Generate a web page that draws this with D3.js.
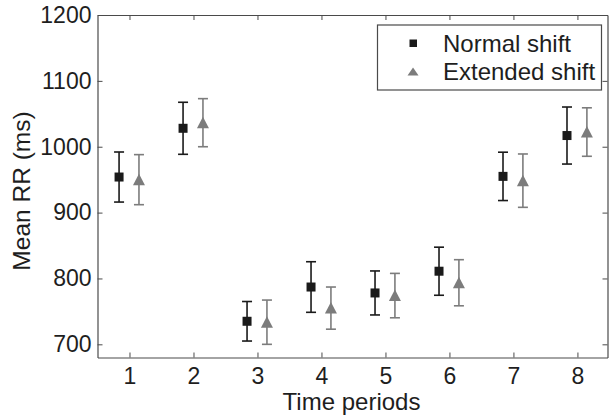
<!DOCTYPE html>
<html><head><meta charset="utf-8">
<script src="https://cdn.jsdelivr.net/npm/d3@7"></script>
<style>body{margin:0;background:#fff}svg{display:block}text{font-family:"Liberation Sans",Arial,sans-serif;fill:#1e1e1e}</style>
</head><body>
<script>
const periods = [1,2,3,4,5,6,7,8];
const normalMean = [954, 1028, 735, 787, 778, 811, 955, 1017];
const normalErr  = [38, 39.5, 30, 38.4, 33.4, 36.5, 36.7, 43.3];
const extMean    = [950, 1036.5, 733.6, 755, 774, 793.5, 948.5, 1022.3];
const extErr     = [38, 36.5, 33.6, 32, 33.7, 35, 40.5, 36.8];
const yTicks = [700, 800, 900, 1000, 1100, 1200];
const seriesNames = ["Normal shift", "Extended shift"];

const W = 609, H = 419;
const m = {l: 97.5, r: 1.5, t: 15, b: 61.5};
const x = d3.scaleLinear().domain([0.5, 8.47]).range([m.l, W - m.r]);
const y = d3.scaleLinear().domain([680, 1200]).range([H - m.b, m.t]);
const axisCol = "#4a4a4a";
const cN = "#1a1a1a", cE = "#7c7c7c";
const offN = -0.163, offE = 0.148;
const fmt = d3.format("d");

const svg = d3.select("body").append("svg").attr("width", W).attr("height", H);

// axes with inward ticks
const gB = svg.append("g").attr("transform", `translate(0,${y.range()[0]})`)
  .call(d3.axisBottom(x).tickValues(periods).tickFormat(fmt).tickSizeInner(-5).tickSizeOuter(0).tickPadding(10));
const gT = svg.append("g").attr("transform", `translate(0,${y.range()[1]})`)
  .call(d3.axisTop(x).tickValues(periods).tickSizeInner(-5).tickSizeOuter(0).tickFormat(""));
const gL = svg.append("g").attr("transform", `translate(${x.range()[0]},0)`)
  .call(d3.axisLeft(y).tickValues(yTicks).tickFormat(fmt).tickSizeInner(-5).tickSizeOuter(0).tickPadding(6));
const gR = svg.append("g").attr("transform", `translate(${x.range()[1]},0)`)
  .call(d3.axisRight(y).tickValues(yTicks).tickSizeInner(-5).tickSizeOuter(0).tickFormat(""));
[gB, gT, gL, gR].forEach(g => {
  g.attr("font-size", 23).attr("font-family", '"Liberation Sans", Arial, sans-serif');
  g.selectAll("path.domain").attr("stroke", axisCol).attr("stroke-width", 1.2);
  g.selectAll(".tick line").attr("stroke", axisCol).attr("stroke-width", 1);
  g.selectAll(".tick text").attr("font-size", 23).attr("fill", "#1e1e1e");
});

// series
function drawSeries(mean, err, off, color, shape) {
  const g = svg.append("g");
  const data = periods.map((p, i) => ({p, v: mean[i], e: err[i]}));
  const cap = 5;
  data.forEach(d => {
    const cx = x(d.p + off);
    g.append("line").attr("x1", cx).attr("x2", cx).attr("y1", y(d.v + d.e)).attr("y2", y(d.v - d.e))
      .attr("stroke", color).attr("stroke-width", 1.6);
    [d.v + d.e, d.v - d.e].forEach(v => {
      g.append("line").attr("x1", cx - cap).attr("x2", cx + cap).attr("y1", y(v)).attr("y2", y(v))
        .attr("stroke", color).attr("stroke-width", 1.6);
    });
    const cy = y(d.v);
    if (shape === "square") {
      g.append("rect").attr("x", cx - 4.5).attr("y", cy - 4.5).attr("width", 9).attr("height", 9).attr("fill", color);
    } else {
      g.append("path").attr("d", `M${cx},${cy - 6} L${cx + 6},${cy + 5.5} L${cx - 6},${cy + 5.5} Z`).attr("fill", color);
    }
  });
}
drawSeries(normalMean, normalErr, offN, cN, "square");
drawSeries(extMean, extErr, offE, cE, "triangle");

// axis labels
svg.append("text").attr("x", (x.range()[0] + x.range()[1]) / 2 - 1).attr("y", 410)
  .attr("text-anchor", "middle").attr("font-size", 24).text("Time periods");
svg.append("text").attr("transform", `translate(30,191) rotate(-90)`)
  .attr("text-anchor", "middle").attr("font-size", 24.5).text("Mean RR (ms)");

// legend
const lg = svg.append("g");
lg.append("rect").attr("x", 377.5).attr("y", 25).attr("width", 224).attr("height", 65)
  .attr("fill", "#fff").attr("stroke", axisCol).attr("stroke-width", 1.2);
lg.append("rect").attr("x", 409.5).attr("y", 39.5).attr("width", 7.5).attr("height", 7.5).attr("fill", cN);
lg.append("path").attr("d", "M413,67.5 L418.5,75.5 L407.5,75.5 Z").attr("fill", cE);
lg.append("text").attr("x", 443).attr("y", 52).attr("font-size", 24).text(seriesNames[0]);
lg.append("text").attr("x", 443).attr("y", 80).attr("font-size", 24).text(seriesNames[1]);
</script>
</body></html>
